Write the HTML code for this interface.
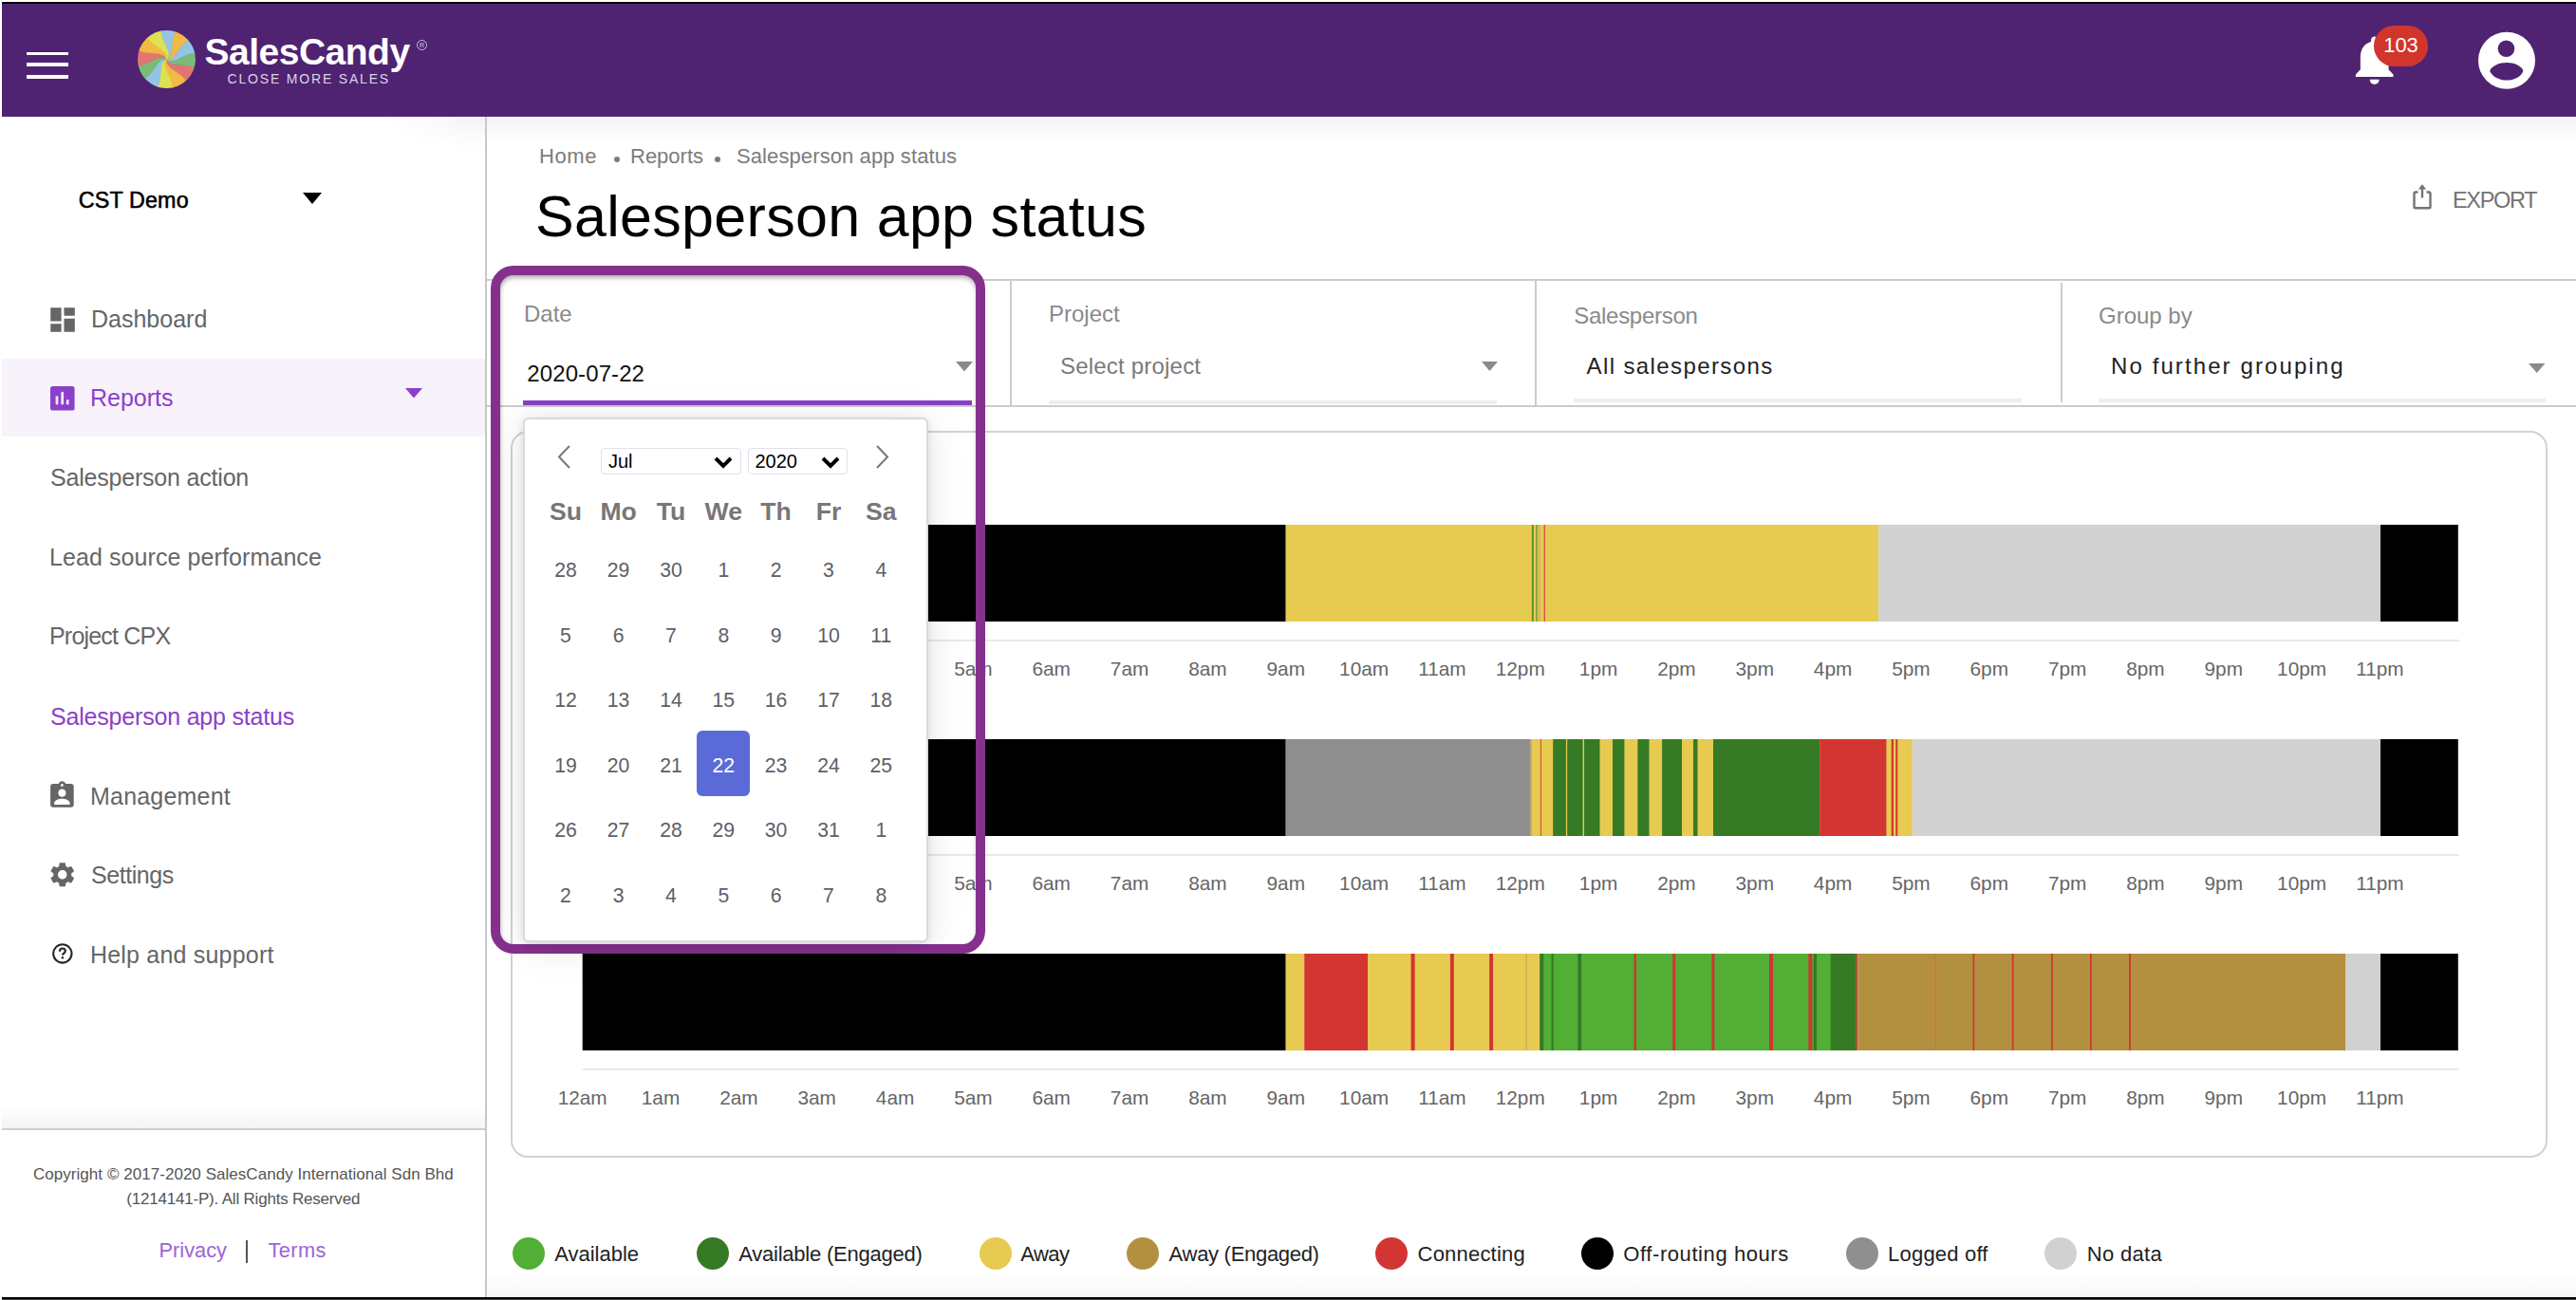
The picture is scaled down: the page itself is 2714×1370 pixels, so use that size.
<!DOCTYPE html>
<html><head><meta charset="utf-8"><title>Salesperson app status</title>
<style>
html,body{margin:0;padding:0;background:#fff;}
body{width:2714px;height:1370px;position:relative;overflow:hidden;font-family:"Liberation Sans", sans-serif;}
.t{position:absolute;white-space:pre;font-family:"Liberation Sans", sans-serif;}
.r{position:absolute;}
</style></head><body>
<div class="r" style="left:2px;top:2px;width:2712px;height:2px;background:#000;"></div>
<div class="r" style="left:2px;top:4px;width:2712px;height:119px;background:#4f2372;"></div>
<div class="r" style="left:27.7px;top:55px;width:44.6px;height:2.6px;background:#fff;"></div>
<div class="r" style="left:27.7px;top:66px;width:44.6px;height:4px;background:#fff;"></div>
<div class="r" style="left:27.7px;top:78.8px;width:44.6px;height:4px;background:#fff;"></div>
<svg class="r" style="left:145px;top:32.3px;" width="61" height="61" viewBox="0 0 61 61"><defs><clipPath id="cc"><circle cx="30.5" cy="30.5" r="30.5"/></clipPath></defs><g clip-path="url(#cc)"><path d="M30.50,30.50 C37.92,22.82 23.40,11.99 24.39,-0.94 L32.73,-1.45 L40.93,0.22 C33.60,10.92 40.76,27.56 30.50,30.50 Z" fill="#94c4e4" stroke="#94c4e4" stroke-width="0.7"/><path d="M30.50,30.50 C40.76,27.56 33.60,10.92 40.93,0.22 L48.41,3.95 L54.67,9.49 C42.98,15.09 40.86,33.08 30.50,30.50 Z" fill="#f2b944" stroke="#f2b944" stroke-width="0.7"/><path d="M30.50,30.50 C40.86,33.08 42.98,15.09 54.67,9.49 L59.28,16.46 L61.94,24.39 C49.01,23.40 38.18,37.92 30.50,30.50 Z" fill="#94c4e4" stroke="#94c4e4" stroke-width="0.7"/><path d="M30.50,30.50 C38.18,37.92 49.01,23.40 61.94,24.39 L62.45,32.73 L60.78,40.93 C50.08,33.60 33.44,40.76 30.50,30.50 Z" fill="#7bbb77" stroke="#7bbb77" stroke-width="0.7"/><path d="M30.50,30.50 C33.44,40.76 50.08,33.60 60.78,40.93 L57.05,48.41 L51.51,54.67 C45.91,42.98 27.92,40.86 30.50,30.50 Z" fill="#e37570" stroke="#e37570" stroke-width="0.7"/><path d="M30.50,30.50 C27.92,40.86 45.91,42.98 51.51,54.67 L44.54,59.28 L36.61,61.94 C37.60,49.01 23.08,38.18 30.50,30.50 Z" fill="#f2b944" stroke="#f2b944" stroke-width="0.7"/><path d="M30.50,30.50 C23.08,38.18 37.60,49.01 36.61,61.94 L28.27,62.45 L20.07,60.78 C27.40,50.08 20.24,33.44 30.50,30.50 Z" fill="#dde152" stroke="#dde152" stroke-width="0.7"/><path d="M30.50,30.50 C20.24,33.44 27.40,50.08 20.07,60.78 L12.59,57.05 L6.33,51.51 C18.02,45.91 20.14,27.92 30.50,30.50 Z" fill="#94c4e4" stroke="#94c4e4" stroke-width="0.7"/><path d="M30.50,30.50 C20.14,27.92 18.02,45.91 6.33,51.51 L1.72,44.54 L-0.94,36.61 C11.99,37.60 22.82,23.08 30.50,30.50 Z" fill="#7bbb77" stroke="#7bbb77" stroke-width="0.7"/><path d="M30.50,30.50 C22.82,23.08 11.99,37.60 -0.94,36.61 L-1.45,28.27 L0.22,20.07 C10.92,27.40 27.56,20.24 30.50,30.50 Z" fill="#e37570" stroke="#e37570" stroke-width="0.7"/><path d="M30.50,30.50 C27.56,20.24 10.92,27.40 0.22,20.07 L3.95,12.59 L9.49,6.33 C15.09,18.02 33.08,20.14 30.50,30.50 Z" fill="#f2b944" stroke="#f2b944" stroke-width="0.7"/><path d="M30.50,30.50 C33.08,20.14 15.09,18.02 9.49,6.33 L16.46,1.72 L24.39,-0.94 C23.40,11.99 37.92,22.82 30.50,30.50 Z" fill="#dde152" stroke="#dde152" stroke-width="0.7"/></g></svg>
<div class="t" style="left:215.50px;top:35.18px;font-size:39px;line-height:39px;color:#fff;font-weight:700;letter-spacing:-0.5px;">SalesCandy</div>
<div class="r" style="left:439.1px;top:41.9px;width:11px;height:11px;border:1.5px solid rgba(255,255,255,0.68);border-radius:50%;box-sizing:border-box;"></div>
<div class="t" style="left:439.1px;top:42.2px;width:11px;height:11px;font-size:7px;line-height:11px;text-align:center;color:rgba(255,255,255,0.55);font-weight:700;">R</div>
<div class="t" style="left:239.50px;top:76.35px;font-size:14px;line-height:14px;color:#ddd3e8;font-weight:400;letter-spacing:1.82px;">CLOSE MORE SALES</div>
<svg class="r" style="left:2471.6px;top:32.2px;" width="59.4" height="62" viewBox="0 0 24 24" preserveAspectRatio="none"><path fill="#fff" d="M12 22c1.1 0 2-.9 2-2h-4c0 1.1.89 2 2 2zm6-6v-5c0-3.07-1.64-5.64-4.5-6.32V4c0-.83-.67-1.5-1.5-1.5s-1.5.67-1.5 1.5v.68C7.63 5.36 6 7.92 6 11v5l-2 2v1h16v-1l-2-2z"/></svg>
<div class="r" style="left:2501px;top:27.4px;width:57px;height:42.6px;border-radius:21.3px;background:#d1352b;"></div>
<div class="t" style="left:2029.50px;width:1000px;text-align:center;top:36.87px;font-size:22px;line-height:22px;color:#fff;font-weight:400;">103</div>
<svg class="r" style="left:2606px;top:30px;" width="70" height="70" viewBox="2606 30 70 70"><circle cx="2641" cy="63.8" r="30" fill="#fff"/><circle cx="2640.5" cy="51.3" r="8.8" fill="#4f2372"/><path fill="#4f2372" d="M2623.2 74.9 C2625 69.5, 2633 66.1, 2641 66.1 C2649 66.1, 2657 69.5, 2658.4 74.9 C2656 80.8, 2649 84.5, 2641 84.5 C2633 84.5, 2626 80.8, 2623.2 74.9 Z"/></svg>
<div class="r" style="left:511px;top:123px;width:2px;height:1244px;background:#c8c8c8;"></div>
<div class="r" style="left:513px;top:123px;width:2201px;height:32px;background:linear-gradient(rgba(0,0,0,0.055),rgba(0,0,0,0.02) 45%,rgba(0,0,0,0));"></div>
<div class="r" style="left:400px;top:123px;width:111px;height:36px;background:radial-gradient(ellipse 100% 100% at 100% 0%, rgba(0,0,0,0.055), rgba(0,0,0,0.02) 50%, rgba(0,0,0,0) 100%);"></div>
<div class="t" style="left:82.80px;top:200.27px;font-size:23.3px;line-height:23.3px;color:#000;font-weight:400;letter-spacing:0.15px;-webkit-text-stroke:0.55px #000;">CST Demo</div>
<svg class="r" style="left:319px;top:202.5px;" width="20" height="12" viewBox="0 0 20 12"><path d="M0 0H20L10 12Z" fill="#000"/></svg>
<svg class="r" style="left:48.9px;top:319.8px;" width="34.1" height="34.1" viewBox="0 0 24 24"><path fill="#666" d="M3 13h8V3H3v10zm0 8h8v-6H3v6zm10 0h8V11h-8v10zm0-18v6h8V3h-8z"/></svg>
<div class="t" style="left:96.00px;top:324.43px;font-size:25px;line-height:25px;color:#666666;font-weight:400;">Dashboard</div>
<div class="r" style="left:2px;top:378px;width:509px;height:82px;background:#f8f2fb;"></div>
<svg class="r" style="left:53.2px;top:407.2px;" width="25.6" height="25.6" viewBox="0 0 25.6 25.6"><rect x="0" y="0" width="25.6" height="25.6" rx="2.6" fill="#8b40c9"/><rect x="5.6" y="10.2" width="2.8" height="9.4" rx="1.4" fill="#f3e6f8"/><rect x="11.3" y="5.8" width="2.8" height="13.8" rx="1.4" fill="#f3e6f8"/><rect x="16.8" y="14" width="2.8" height="5.6" rx="1.4" fill="#f3e6f8"/></svg>
<div class="t" style="left:95.00px;top:406.53px;font-size:25px;line-height:25px;color:#8b40c9;font-weight:400;">Reports</div>
<svg class="r" style="left:427px;top:408.6px;" width="18" height="10.5" viewBox="0 0 18 10.5"><path d="M0 0H18L9 10.5Z" fill="#8b40c9"/></svg>
<div class="t" style="left:53.00px;top:491.43px;font-size:25px;line-height:25px;color:#666666;font-weight:400;letter-spacing:-0.2px;">Salesperson action</div>
<div class="t" style="left:52.00px;top:574.83px;font-size:25px;line-height:25px;color:#666666;font-weight:400;letter-spacing:0.09px;">Lead source performance</div>
<div class="t" style="left:52.00px;top:658.43px;font-size:25px;line-height:25px;color:#666666;font-weight:400;letter-spacing:-0.8px;">Project CPX</div>
<div class="t" style="left:53.00px;top:743.43px;font-size:25px;line-height:25px;color:#8b40c9;font-weight:400;letter-spacing:-0.19px;">Salesperson app status</div>
<svg class="r" style="left:49.1px;top:822.3px;" width="32.8" height="32.8" viewBox="0 0 24 24"><path fill="#666" d="M19 3h-4.18C14.4 1.84 13.3 1 12 1c-1.3 0-2.4.84-2.82 2H5c-1.1 0-2 .9-2 2v14c0 1.1.9 2 2 2h14c1.1 0 2-.9 2-2V5c0-1.1-.9-2-2-2zm-7 0c.55 0 1 .45 1 1s-.45 1-1 1-1-.45-1-1 .45-1 1-1zm0 4c1.66 0 3 1.34 3 3s-1.34 3-3 3-3-1.34-3-3 1.34-3 3-3zm6 12H6v-1.4c0-2 4-3.1 6-3.1s6 1.1 6 3.1V19z"/></svg>
<div class="t" style="left:95.00px;top:827.23px;font-size:25px;line-height:25px;color:#666666;font-weight:400;letter-spacing:0.2px;">Management</div>
<svg class="r" style="left:49.6px;top:906.3px;" width="31.5" height="31.5" viewBox="0 0 24 24"><path fill="#666" d="M19.14 12.94c.04-.3.06-.61.06-.94 0-.32-.02-.64-.07-.94l2.03-1.58c.18-.14.23-.41.12-.61l-1.92-3.32c-.12-.22-.37-.29-.59-.22l-2.39.96c-.5-.38-1.03-.7-1.62-.94l-.36-2.54c-.04-.24-.24-.41-.48-.41h-3.84c-.24 0-.43.17-.47.41l-.36 2.54c-.59.24-1.13.57-1.62.94l-2.39-.96c-.22-.08-.47 0-.59.22L2.74 8.87c-.12.21-.08.47.12.61l2.03 1.58c-.05.3-.09.63-.09.94s.02.64.07.94l-2.03 1.58c-.18.14-.23.41-.12.61l1.92 3.32c.12.22.37.29.59.22l2.39-.96c.5.38 1.03.7 1.62.94l.36 2.54c.05.24.24.41.48.41h3.84c.24 0 .44-.17.47-.41l.36-2.54c.59-.24 1.13-.56 1.62-.94l2.39.96c.22.08.47 0 .59-.22l1.92-3.32c.12-.22.07-.47-.12-.61l-2.01-1.58zM12 15.6c-1.98 0-3.6-1.62-3.6-3.6s1.62-3.6 3.6-3.6 3.6 1.62 3.6 3.6-1.62 3.6-3.6 3.6z"/></svg>
<div class="t" style="left:96.00px;top:910.43px;font-size:25px;line-height:25px;color:#666666;font-weight:400;letter-spacing:-0.43px;">Settings</div>
<svg class="r" style="left:45px;top:985px;" width="40" height="40" viewBox="45 985 40 40"><circle cx="65.85" cy="1004.95" r="9.65" fill="none" stroke="#262626" stroke-width="2.1"/><path d="M62.9 1002.7C62.9 1000.7 64.2 999.5 65.9 999.5C67.6 999.5 68.8 1000.6 68.8 1002.2C68.8 1004.3 66 1004.8 65.9 1006.6" fill="none" stroke="#262626" stroke-width="2.2"/><circle cx="65.9" cy="1009.2" r="1.25" fill="#262626"/></svg>
<div class="t" style="left:95.00px;top:994.43px;font-size:25px;line-height:25px;color:#666666;font-weight:400;letter-spacing:0.2px;">Help and support</div>
<div class="r" style="left:2px;top:1165px;width:509px;height:24px;background:linear-gradient(rgba(0,0,0,0),rgba(0,0,0,0.045));"></div>
<div class="r" style="left:2px;top:1188.5px;width:509px;height:2px;background:#cfcfcf;"></div>
<div class="t" style="left:-243.60px;width:1000px;text-align:center;top:1229.41px;font-size:17px;line-height:17px;color:#555;font-weight:400;letter-spacing:0.04px;">Copyright © 2017-2020 SalesCandy International Sdn Bhd</div>
<div class="t" style="left:-243.80px;width:1000px;text-align:center;top:1254.61px;font-size:17px;line-height:17px;color:#555;font-weight:400;letter-spacing:-0.2px;">(1214141-P). All Rights Reserved</div>
<div class="t" style="left:167.50px;top:1307.34px;font-size:21.8px;line-height:21.8px;color:#9e63d6;font-weight:400;">Privacy</div>
<div class="r" style="left:259.2px;top:1306.8px;width:1.7px;height:24px;background:#555;"></div>
<div class="t" style="left:282.50px;top:1307.34px;font-size:21.8px;line-height:21.8px;color:#9e63d6;font-weight:400;letter-spacing:0.4px;">Terms</div>
<div class="r" style="left:2px;top:1367px;width:2712px;height:2px;background:#000;"></div>
<div class="r" style="left:2px;top:1369px;width:2712px;height:1px;background:#444;"></div>
<div class="t" style="left:568.00px;top:154.37px;font-size:22px;line-height:22px;color:#7c7c7c;font-weight:400;letter-spacing:0.6px;">Home</div>
<div class="r" style="left:647px;top:164.5px;width:6px;height:6px;border-radius:50%;background:#7c7c7c;"></div>
<div class="t" style="left:664.00px;top:154.37px;font-size:22px;line-height:22px;color:#7c7c7c;font-weight:400;">Reports</div>
<div class="r" style="left:753px;top:164.5px;width:6px;height:6px;border-radius:50%;background:#7c7c7c;"></div>
<div class="t" style="left:776.00px;top:154.37px;font-size:22px;line-height:22px;color:#7c7c7c;font-weight:400;letter-spacing:0.1px;">Salesperson app status</div>
<div class="t" style="left:564.00px;top:197.75px;font-size:61px;line-height:61px;color:#000;font-weight:400;letter-spacing:0.3px;">Salesperson app status</div>
<svg class="r" style="left:2540px;top:190px;" width="24" height="32" viewBox="0 0 24 32"><path d="M7.5 12.5H4.8a1.3 1.3 0 0 0-1.3 1.3V28a1.3 1.3 0 0 0 1.3 1.3h14.4a1.3 1.3 0 0 0 1.3-1.3V13.8a1.3 1.3 0 0 0-1.3-1.3H16.5" fill="none" stroke="#737373" stroke-width="2.4"/><path d="M12 18.5V5.5" stroke="#737373" stroke-width="2.4"/><path d="M7.8 9.5L12 4.3L16.2 9.5Z" fill="#737373"/></svg>
<div class="t" style="left:2584.00px;top:199.80px;font-size:23.5px;line-height:23.5px;color:#737373;font-weight:400;letter-spacing:-1.3px;">EXPORT</div>
<div class="r" style="left:513px;top:294px;width:2201px;height:2px;background:#cccccc;"></div>
<div class="r" style="left:513px;top:427px;width:2201px;height:2px;background:#cccccc;"></div>
<div class="r" style="left:1064px;top:296px;width:2px;height:131px;background:#cccccc;"></div>
<div class="r" style="left:1617px;top:296px;width:2px;height:131px;background:#cccccc;"></div>
<div class="r" style="left:2171px;top:298px;width:2px;height:126px;background:#cccccc;"></div>
<div class="t" style="left:1105.00px;top:319.08px;font-size:24px;line-height:24px;color:#8a8a8a;font-weight:400;">Project</div>
<div class="t" style="left:1117.00px;top:374.28px;font-size:24px;line-height:24px;color:#7a7a7a;font-weight:400;letter-spacing:0.2px;">Select project</div>
<svg class="r" style="left:1560.5px;top:381.3px;" width="17" height="10" viewBox="0 0 17 10"><path d="M0 0H17L8.5 10Z" fill="#8a8a8a"/></svg>
<div class="r" style="left:1104.5px;top:422px;width:472.5px;height:4.3px;background:#eeeeee;"></div>
<div class="t" style="left:1658.20px;top:321.38px;font-size:24px;line-height:24px;color:#8a8a8a;font-weight:400;letter-spacing:-0.27px;">Salesperson</div>
<div class="t" style="left:1671.50px;top:374.28px;font-size:24px;line-height:24px;color:#222;font-weight:400;letter-spacing:1.4px;">All salespersons</div>
<div class="r" style="left:1657.8px;top:420.2px;width:472.6px;height:4.2px;background:#eeeeee;"></div>
<div class="t" style="left:2211.00px;top:320.98px;font-size:24px;line-height:24px;color:#8a8a8a;font-weight:400;">Group by</div>
<div class="t" style="left:2224.00px;top:373.98px;font-size:24px;line-height:24px;color:#222;font-weight:400;letter-spacing:2.1px;">No further grouping</div>
<svg class="r" style="left:2663.5px;top:383.4px;" width="17.5" height="10" viewBox="0 0 17.5 10"><path d="M0 0H17.5L8.75 10Z" fill="#8a8a8a"/></svg>
<div class="r" style="left:2211.3px;top:420.1px;width:470.3px;height:3.9px;background:#eeeeee;"></div>
<div class="r" style="left:538px;top:454px;width:2146px;height:766px;border:2px solid #d2d2d2;border-radius:18px;box-sizing:border-box;"></div>
<svg class="r" style="left:0;top:553.3px;" width="2714" height="102" viewBox="0 0 2714 102"><rect x="613.70" y="0" width="741.00" height="102" fill="#000"/><rect x="1354.70" y="0" width="624.50" height="102" fill="#e7ca50"/><rect x="1613.90" y="0" width="1.90" height="102" fill="#5a8f2e"/><rect x="1618.10" y="0" width="1.80" height="102" fill="#7ea33a"/><rect x="1620.90" y="0" width="2.00" height="102" fill="#d2b565"/><rect x="1626.60" y="0" width="1.40" height="102" fill="#d9534a"/><rect x="1979.20" y="0" width="528.80" height="102" fill="#d1d1d1"/><rect x="2508.00" y="0" width="81.80" height="102" fill="#000"/></svg>
<div class="r" style="left:614px;top:674px;width:1977px;height:2px;background:#e9e9e9;"></div>
<div class="t" style="left:113.70px;width:1000px;text-align:center;top:694.99px;font-size:20.8px;line-height:20.8px;color:#666;font-weight:400;">12am</div>
<div class="t" style="left:196.04px;width:1000px;text-align:center;top:694.99px;font-size:20.8px;line-height:20.8px;color:#666;font-weight:400;">1am</div>
<div class="t" style="left:278.38px;width:1000px;text-align:center;top:694.99px;font-size:20.8px;line-height:20.8px;color:#666;font-weight:400;">2am</div>
<div class="t" style="left:360.71px;width:1000px;text-align:center;top:694.99px;font-size:20.8px;line-height:20.8px;color:#666;font-weight:400;">3am</div>
<div class="t" style="left:443.05px;width:1000px;text-align:center;top:694.99px;font-size:20.8px;line-height:20.8px;color:#666;font-weight:400;">4am</div>
<div class="t" style="left:525.39px;width:1000px;text-align:center;top:694.99px;font-size:20.8px;line-height:20.8px;color:#666;font-weight:400;">5am</div>
<div class="t" style="left:607.73px;width:1000px;text-align:center;top:694.99px;font-size:20.8px;line-height:20.8px;color:#666;font-weight:400;">6am</div>
<div class="t" style="left:690.06px;width:1000px;text-align:center;top:694.99px;font-size:20.8px;line-height:20.8px;color:#666;font-weight:400;">7am</div>
<div class="t" style="left:772.40px;width:1000px;text-align:center;top:694.99px;font-size:20.8px;line-height:20.8px;color:#666;font-weight:400;">8am</div>
<div class="t" style="left:854.74px;width:1000px;text-align:center;top:694.99px;font-size:20.8px;line-height:20.8px;color:#666;font-weight:400;">9am</div>
<div class="t" style="left:937.08px;width:1000px;text-align:center;top:694.99px;font-size:20.8px;line-height:20.8px;color:#666;font-weight:400;">10am</div>
<div class="t" style="left:1019.41px;width:1000px;text-align:center;top:694.99px;font-size:20.8px;line-height:20.8px;color:#666;font-weight:400;">11am</div>
<div class="t" style="left:1101.75px;width:1000px;text-align:center;top:694.99px;font-size:20.8px;line-height:20.8px;color:#666;font-weight:400;">12pm</div>
<div class="t" style="left:1184.09px;width:1000px;text-align:center;top:694.99px;font-size:20.8px;line-height:20.8px;color:#666;font-weight:400;">1pm</div>
<div class="t" style="left:1266.43px;width:1000px;text-align:center;top:694.99px;font-size:20.8px;line-height:20.8px;color:#666;font-weight:400;">2pm</div>
<div class="t" style="left:1348.76px;width:1000px;text-align:center;top:694.99px;font-size:20.8px;line-height:20.8px;color:#666;font-weight:400;">3pm</div>
<div class="t" style="left:1431.10px;width:1000px;text-align:center;top:694.99px;font-size:20.8px;line-height:20.8px;color:#666;font-weight:400;">4pm</div>
<div class="t" style="left:1513.44px;width:1000px;text-align:center;top:694.99px;font-size:20.8px;line-height:20.8px;color:#666;font-weight:400;">5pm</div>
<div class="t" style="left:1595.78px;width:1000px;text-align:center;top:694.99px;font-size:20.8px;line-height:20.8px;color:#666;font-weight:400;">6pm</div>
<div class="t" style="left:1678.11px;width:1000px;text-align:center;top:694.99px;font-size:20.8px;line-height:20.8px;color:#666;font-weight:400;">7pm</div>
<div class="t" style="left:1760.45px;width:1000px;text-align:center;top:694.99px;font-size:20.8px;line-height:20.8px;color:#666;font-weight:400;">8pm</div>
<div class="t" style="left:1842.79px;width:1000px;text-align:center;top:694.99px;font-size:20.8px;line-height:20.8px;color:#666;font-weight:400;">9pm</div>
<div class="t" style="left:1925.12px;width:1000px;text-align:center;top:694.99px;font-size:20.8px;line-height:20.8px;color:#666;font-weight:400;">10pm</div>
<div class="t" style="left:2007.46px;width:1000px;text-align:center;top:694.99px;font-size:20.8px;line-height:20.8px;color:#666;font-weight:400;">11pm</div>
<svg class="r" style="left:0;top:779.3px;" width="2714" height="102" viewBox="0 0 2714 102"><rect x="613.70" y="0" width="741.00" height="102" fill="#000"/><rect x="1354.70" y="0" width="258.10" height="102" fill="#8f8f8f"/><rect x="1612.80" y="0" width="402.00" height="102" fill="#e7ca50"/><rect x="1612.80" y="0" width="0.80" height="102" fill="#c8a040"/><rect x="1622.90" y="0" width="0.90" height="102" fill="#d33532"/><rect x="1636.20" y="0" width="13.70" height="102" fill="#367a25"/><rect x="1651.20" y="0" width="16.40" height="102" fill="#367a25"/><rect x="1669.00" y="0" width="16.50" height="102" fill="#367a25"/><rect x="1699.00" y="0" width="12.40" height="102" fill="#367a25"/><rect x="1725.40" y="0" width="12.10" height="102" fill="#367a25"/><rect x="1751.10" y="0" width="20.90" height="102" fill="#367a25"/><rect x="1784.00" y="0" width="4.50" height="102" fill="#367a25"/><rect x="1805.00" y="0" width="112.20" height="102" fill="#367a25"/><rect x="1917.20" y="0" width="70.20" height="102" fill="#d33532"/><rect x="1992.70" y="0" width="2.30" height="102" fill="#d33532"/><rect x="1997.30" y="0" width="2.00" height="102" fill="#d33532"/><rect x="2014.80" y="0" width="493.20" height="102" fill="#d1d1d1"/><rect x="2508.00" y="0" width="81.80" height="102" fill="#000"/></svg>
<div class="r" style="left:614px;top:900px;width:1977px;height:2px;background:#e9e9e9;"></div>
<div class="t" style="left:113.70px;width:1000px;text-align:center;top:920.99px;font-size:20.8px;line-height:20.8px;color:#666;font-weight:400;">12am</div>
<div class="t" style="left:196.04px;width:1000px;text-align:center;top:920.99px;font-size:20.8px;line-height:20.8px;color:#666;font-weight:400;">1am</div>
<div class="t" style="left:278.38px;width:1000px;text-align:center;top:920.99px;font-size:20.8px;line-height:20.8px;color:#666;font-weight:400;">2am</div>
<div class="t" style="left:360.71px;width:1000px;text-align:center;top:920.99px;font-size:20.8px;line-height:20.8px;color:#666;font-weight:400;">3am</div>
<div class="t" style="left:443.05px;width:1000px;text-align:center;top:920.99px;font-size:20.8px;line-height:20.8px;color:#666;font-weight:400;">4am</div>
<div class="t" style="left:525.39px;width:1000px;text-align:center;top:920.99px;font-size:20.8px;line-height:20.8px;color:#666;font-weight:400;">5am</div>
<div class="t" style="left:607.73px;width:1000px;text-align:center;top:920.99px;font-size:20.8px;line-height:20.8px;color:#666;font-weight:400;">6am</div>
<div class="t" style="left:690.06px;width:1000px;text-align:center;top:920.99px;font-size:20.8px;line-height:20.8px;color:#666;font-weight:400;">7am</div>
<div class="t" style="left:772.40px;width:1000px;text-align:center;top:920.99px;font-size:20.8px;line-height:20.8px;color:#666;font-weight:400;">8am</div>
<div class="t" style="left:854.74px;width:1000px;text-align:center;top:920.99px;font-size:20.8px;line-height:20.8px;color:#666;font-weight:400;">9am</div>
<div class="t" style="left:937.08px;width:1000px;text-align:center;top:920.99px;font-size:20.8px;line-height:20.8px;color:#666;font-weight:400;">10am</div>
<div class="t" style="left:1019.41px;width:1000px;text-align:center;top:920.99px;font-size:20.8px;line-height:20.8px;color:#666;font-weight:400;">11am</div>
<div class="t" style="left:1101.75px;width:1000px;text-align:center;top:920.99px;font-size:20.8px;line-height:20.8px;color:#666;font-weight:400;">12pm</div>
<div class="t" style="left:1184.09px;width:1000px;text-align:center;top:920.99px;font-size:20.8px;line-height:20.8px;color:#666;font-weight:400;">1pm</div>
<div class="t" style="left:1266.43px;width:1000px;text-align:center;top:920.99px;font-size:20.8px;line-height:20.8px;color:#666;font-weight:400;">2pm</div>
<div class="t" style="left:1348.76px;width:1000px;text-align:center;top:920.99px;font-size:20.8px;line-height:20.8px;color:#666;font-weight:400;">3pm</div>
<div class="t" style="left:1431.10px;width:1000px;text-align:center;top:920.99px;font-size:20.8px;line-height:20.8px;color:#666;font-weight:400;">4pm</div>
<div class="t" style="left:1513.44px;width:1000px;text-align:center;top:920.99px;font-size:20.8px;line-height:20.8px;color:#666;font-weight:400;">5pm</div>
<div class="t" style="left:1595.78px;width:1000px;text-align:center;top:920.99px;font-size:20.8px;line-height:20.8px;color:#666;font-weight:400;">6pm</div>
<div class="t" style="left:1678.11px;width:1000px;text-align:center;top:920.99px;font-size:20.8px;line-height:20.8px;color:#666;font-weight:400;">7pm</div>
<div class="t" style="left:1760.45px;width:1000px;text-align:center;top:920.99px;font-size:20.8px;line-height:20.8px;color:#666;font-weight:400;">8pm</div>
<div class="t" style="left:1842.79px;width:1000px;text-align:center;top:920.99px;font-size:20.8px;line-height:20.8px;color:#666;font-weight:400;">9pm</div>
<div class="t" style="left:1925.12px;width:1000px;text-align:center;top:920.99px;font-size:20.8px;line-height:20.8px;color:#666;font-weight:400;">10pm</div>
<div class="t" style="left:2007.46px;width:1000px;text-align:center;top:920.99px;font-size:20.8px;line-height:20.8px;color:#666;font-weight:400;">11pm</div>
<svg class="r" style="left:0;top:1005.3px;" width="2714" height="102" viewBox="0 0 2714 102"><rect x="613.70" y="0" width="741.00" height="102" fill="#000"/><rect x="1354.70" y="0" width="19.50" height="102" fill="#e7ca50"/><rect x="1374.20" y="0" width="66.80" height="102" fill="#d33532"/><rect x="1441.00" y="0" width="181.30" height="102" fill="#e7ca50"/><rect x="1486.60" y="0" width="4.00" height="102" fill="#d33532"/><rect x="1527.90" y="0" width="3.90" height="102" fill="#d33532"/><rect x="1569.20" y="0" width="3.80" height="102" fill="#d33532"/><rect x="1607.50" y="0" width="1.20" height="102" fill="#c9a75a"/><rect x="1622.30" y="0" width="333.40" height="102" fill="#52ae35"/><rect x="1622.30" y="0" width="3.90" height="102" fill="#367a25"/><rect x="1634.50" y="0" width="2.20" height="102" fill="#367a25"/><rect x="1662.30" y="0" width="3.80" height="102" fill="#367a25"/><rect x="1721.50" y="0" width="2.50" height="102" fill="#d33532"/><rect x="1762.30" y="0" width="2.90" height="102" fill="#d33532"/><rect x="1803.40" y="0" width="2.90" height="102" fill="#d33532"/><rect x="1864.00" y="0" width="4.00" height="102" fill="#d33532"/><rect x="1905.40" y="0" width="3.90" height="102" fill="#d33532"/><rect x="1910.70" y="0" width="3.30" height="102" fill="#367a25"/><rect x="1928.70" y="0" width="27.00" height="102" fill="#367a25"/><rect x="1955.70" y="0" width="1.70" height="102" fill="#d33532"/><rect x="1957.40" y="0" width="514.10" height="102" fill="#b39040"/><rect x="2038.60" y="0" width="1.20" height="102" fill="#d86a50"/><rect x="2078.50" y="0" width="1.70" height="102" fill="#d33532"/><rect x="2119.80" y="0" width="1.70" height="102" fill="#d33532"/><rect x="2161.00" y="0" width="1.70" height="102" fill="#d33532"/><rect x="2202.00" y="0" width="1.70" height="102" fill="#d33532"/><rect x="2243.00" y="0" width="1.80" height="102" fill="#d33532"/><rect x="2471.50" y="0" width="36.50" height="102" fill="#d1d1d1"/><rect x="2508.00" y="0" width="81.80" height="102" fill="#000"/></svg>
<div class="r" style="left:614px;top:1126px;width:1977px;height:2px;background:#e9e9e9;"></div>
<div class="t" style="left:113.70px;width:1000px;text-align:center;top:1146.99px;font-size:20.8px;line-height:20.8px;color:#666;font-weight:400;">12am</div>
<div class="t" style="left:196.04px;width:1000px;text-align:center;top:1146.99px;font-size:20.8px;line-height:20.8px;color:#666;font-weight:400;">1am</div>
<div class="t" style="left:278.38px;width:1000px;text-align:center;top:1146.99px;font-size:20.8px;line-height:20.8px;color:#666;font-weight:400;">2am</div>
<div class="t" style="left:360.71px;width:1000px;text-align:center;top:1146.99px;font-size:20.8px;line-height:20.8px;color:#666;font-weight:400;">3am</div>
<div class="t" style="left:443.05px;width:1000px;text-align:center;top:1146.99px;font-size:20.8px;line-height:20.8px;color:#666;font-weight:400;">4am</div>
<div class="t" style="left:525.39px;width:1000px;text-align:center;top:1146.99px;font-size:20.8px;line-height:20.8px;color:#666;font-weight:400;">5am</div>
<div class="t" style="left:607.73px;width:1000px;text-align:center;top:1146.99px;font-size:20.8px;line-height:20.8px;color:#666;font-weight:400;">6am</div>
<div class="t" style="left:690.06px;width:1000px;text-align:center;top:1146.99px;font-size:20.8px;line-height:20.8px;color:#666;font-weight:400;">7am</div>
<div class="t" style="left:772.40px;width:1000px;text-align:center;top:1146.99px;font-size:20.8px;line-height:20.8px;color:#666;font-weight:400;">8am</div>
<div class="t" style="left:854.74px;width:1000px;text-align:center;top:1146.99px;font-size:20.8px;line-height:20.8px;color:#666;font-weight:400;">9am</div>
<div class="t" style="left:937.08px;width:1000px;text-align:center;top:1146.99px;font-size:20.8px;line-height:20.8px;color:#666;font-weight:400;">10am</div>
<div class="t" style="left:1019.41px;width:1000px;text-align:center;top:1146.99px;font-size:20.8px;line-height:20.8px;color:#666;font-weight:400;">11am</div>
<div class="t" style="left:1101.75px;width:1000px;text-align:center;top:1146.99px;font-size:20.8px;line-height:20.8px;color:#666;font-weight:400;">12pm</div>
<div class="t" style="left:1184.09px;width:1000px;text-align:center;top:1146.99px;font-size:20.8px;line-height:20.8px;color:#666;font-weight:400;">1pm</div>
<div class="t" style="left:1266.43px;width:1000px;text-align:center;top:1146.99px;font-size:20.8px;line-height:20.8px;color:#666;font-weight:400;">2pm</div>
<div class="t" style="left:1348.76px;width:1000px;text-align:center;top:1146.99px;font-size:20.8px;line-height:20.8px;color:#666;font-weight:400;">3pm</div>
<div class="t" style="left:1431.10px;width:1000px;text-align:center;top:1146.99px;font-size:20.8px;line-height:20.8px;color:#666;font-weight:400;">4pm</div>
<div class="t" style="left:1513.44px;width:1000px;text-align:center;top:1146.99px;font-size:20.8px;line-height:20.8px;color:#666;font-weight:400;">5pm</div>
<div class="t" style="left:1595.78px;width:1000px;text-align:center;top:1146.99px;font-size:20.8px;line-height:20.8px;color:#666;font-weight:400;">6pm</div>
<div class="t" style="left:1678.11px;width:1000px;text-align:center;top:1146.99px;font-size:20.8px;line-height:20.8px;color:#666;font-weight:400;">7pm</div>
<div class="t" style="left:1760.45px;width:1000px;text-align:center;top:1146.99px;font-size:20.8px;line-height:20.8px;color:#666;font-weight:400;">8pm</div>
<div class="t" style="left:1842.79px;width:1000px;text-align:center;top:1146.99px;font-size:20.8px;line-height:20.8px;color:#666;font-weight:400;">9pm</div>
<div class="t" style="left:1925.12px;width:1000px;text-align:center;top:1146.99px;font-size:20.8px;line-height:20.8px;color:#666;font-weight:400;">10pm</div>
<div class="t" style="left:2007.46px;width:1000px;text-align:center;top:1146.99px;font-size:20.8px;line-height:20.8px;color:#666;font-weight:400;">11pm</div>
<div class="r" style="left:540.3px;top:1303.8px;width:34px;height:34px;border-radius:50%;background:#52ae35;"></div>
<div class="t" style="left:584.20px;top:1311.37px;font-size:22px;line-height:22px;color:#222;font-weight:400;">Available</div>
<div class="r" style="left:733.8px;top:1303.8px;width:34px;height:34px;border-radius:50%;background:#367a25;"></div>
<div class="t" style="left:778.20px;top:1311.37px;font-size:22px;line-height:22px;color:#222;font-weight:400;letter-spacing:-0.23px;">Available (Engaged)</div>
<div class="r" style="left:1031.9px;top:1303.8px;width:34px;height:34px;border-radius:50%;background:#e7ca50;"></div>
<div class="t" style="left:1075.20px;top:1311.37px;font-size:22px;line-height:22px;color:#222;font-weight:400;letter-spacing:-0.5px;">Away</div>
<div class="r" style="left:1187.4px;top:1303.8px;width:34px;height:34px;border-radius:50%;background:#b39040;"></div>
<div class="t" style="left:1231.60px;top:1311.37px;font-size:22px;line-height:22px;color:#222;font-weight:400;letter-spacing:-0.3px;">Away (Engaged)</div>
<div class="r" style="left:1449px;top:1303.8px;width:34px;height:34px;border-radius:50%;background:#d33532;"></div>
<div class="t" style="left:1493.60px;top:1311.37px;font-size:22px;line-height:22px;color:#222;font-weight:400;letter-spacing:0.2px;">Connecting</div>
<div class="r" style="left:1666.3px;top:1303.8px;width:34px;height:34px;border-radius:50%;background:#000;"></div>
<div class="t" style="left:1710.30px;top:1311.37px;font-size:22px;line-height:22px;color:#222;font-weight:400;letter-spacing:0.58px;">Off-routing hours</div>
<div class="r" style="left:1944.8px;top:1303.8px;width:34px;height:34px;border-radius:50%;background:#8f8f8f;"></div>
<div class="t" style="left:1989.10px;top:1311.37px;font-size:22px;line-height:22px;color:#222;font-weight:400;letter-spacing:0.2px;">Logged off</div>
<div class="r" style="left:2153.8px;top:1303.8px;width:34px;height:34px;border-radius:50%;background:#d1d1d1;"></div>
<div class="t" style="left:2198.80px;top:1311.37px;font-size:22px;line-height:22px;color:#222;font-weight:400;letter-spacing:0.3px;">No data</div>
<div class="r" style="left:513px;top:1340px;width:2201px;height:27px;background:linear-gradient(rgba(0,0,0,0),rgba(0,0,0,0.03));"></div>
<div class="r" style="left:517px;top:280px;width:521px;height:725px;border:10px solid #86308e;border-radius:24px;box-sizing:border-box;box-shadow: inset 0 4px 5px -1px rgba(0,0,0,0.30), inset 3px 0 5px -2px rgba(0,0,0,0.10);background:transparent;z-index:5;"></div>
<div class="r" style="left:520px;top:285px;width:515px;height:20px;background:#fff;z-index:4;"></div>
<div class="t" style="left:552.00px;top:318.68px;font-size:24px;line-height:24px;color:#8a8a8a;font-weight:400;z-index:6;">Date</div>
<div class="t" style="left:555.30px;top:382.48px;font-size:24px;line-height:24px;color:#111;font-weight:400;letter-spacing:0.1px;z-index:6;">2020-07-22</div>
<svg class="r" style="left:1007px;top:381px;width:18px;height:10.4px;z-index:6;" viewBox="0 0 18 10.4"><path d="M0 0H18L9 10.4Z" fill="#8a8a8a"/></svg>
<div class="r" style="left:551px;top:422.2px;width:472.7px;height:4.4px;background:#8a3fc3;z-index:6;"></div>
<div class="r" style="left:551px;top:440px;width:427.3px;height:552.5px;background:#fff;border:2px solid #dadada;border-radius:6px;box-sizing:border-box;box-shadow:0 2px 8px rgba(0,0,0,0.10), 0 4px 44px rgba(0,0,0,0.11);z-index:6;"></div>
<svg class="r" style="left:586px;top:468px;width:16px;height:27px;z-index:7;" viewBox="0 0 16 27"><path d="M14 2L3 13.5L14 25" fill="none" stroke="#777" stroke-width="2"/></svg>
<svg class="r" style="left:922px;top:468px;width:16px;height:27px;z-index:7;" viewBox="0 0 16 27"><path d="M2 2L13 13.5L2 25" fill="none" stroke="#777" stroke-width="2"/></svg>
<div class="r" style="left:632.5px;top:471.8px;width:148px;height:28.6px;border:1.5px solid #dfe1ea;border-radius:4px;box-sizing:border-box;background:#fff;z-index:7;"></div>
<div class="r" style="left:787.5px;top:471.8px;width:105.5px;height:28.6px;border:1.5px solid #dfe1ea;border-radius:4px;box-sizing:border-box;background:#fff;z-index:7;"></div>
<div class="t" style="left:641.00px;top:476.17px;font-size:20px;line-height:20px;color:#000;font-weight:400;z-index:7;">Jul</div>
<div class="t" style="left:795.50px;top:476.17px;font-size:20px;line-height:20px;color:#000;font-weight:400;z-index:7;">2020</div>
<svg class="r" style="left:752px;top:480px;width:20px;height:14px;z-index:7;" viewBox="0 0 20 14"><path d="M2 3L10 11L18 3" fill="none" stroke="#000" stroke-width="3.9" stroke-linejoin="miter"/></svg>
<svg class="r" style="left:864.5px;top:480px;width:20px;height:14px;z-index:7;" viewBox="0 0 20 14"><path d="M2 3L10 11L18 3" fill="none" stroke="#000" stroke-width="3.9" stroke-linejoin="miter"/></svg>
<div class="t" style="left:96.00px;width:1000px;text-align:center;top:525.78px;font-size:26.6px;line-height:26.6px;color:#777;font-weight:700;z-index:7;">Su</div>
<div class="t" style="left:151.60px;width:1000px;text-align:center;top:525.78px;font-size:26.6px;line-height:26.6px;color:#777;font-weight:700;z-index:7;">Mo</div>
<div class="t" style="left:207.00px;width:1000px;text-align:center;top:525.78px;font-size:26.6px;line-height:26.6px;color:#777;font-weight:700;z-index:7;">Tu</div>
<div class="t" style="left:262.30px;width:1000px;text-align:center;top:525.78px;font-size:26.6px;line-height:26.6px;color:#777;font-weight:700;z-index:7;">We</div>
<div class="t" style="left:317.60px;width:1000px;text-align:center;top:525.78px;font-size:26.6px;line-height:26.6px;color:#777;font-weight:700;z-index:7;">Th</div>
<div class="t" style="left:373.00px;width:1000px;text-align:center;top:525.78px;font-size:26.6px;line-height:26.6px;color:#777;font-weight:700;z-index:7;">Fr</div>
<div class="t" style="left:428.30px;width:1000px;text-align:center;top:525.78px;font-size:26.6px;line-height:26.6px;color:#777;font-weight:700;z-index:7;">Sa</div>
<div class="r" style="left:734px;top:770px;width:55.5px;height:68.5px;border-radius:6px;background:#5a6bd7;z-index:7;"></div>
<div class="t" style="left:96.00px;width:1000px;text-align:center;top:590.25px;font-size:21.2px;line-height:21.2px;color:#5d6067;font-weight:400;z-index:7;">28</div>
<div class="t" style="left:151.60px;width:1000px;text-align:center;top:590.25px;font-size:21.2px;line-height:21.2px;color:#5d6067;font-weight:400;z-index:7;">29</div>
<div class="t" style="left:207.00px;width:1000px;text-align:center;top:590.25px;font-size:21.2px;line-height:21.2px;color:#5d6067;font-weight:400;z-index:7;">30</div>
<div class="t" style="left:262.30px;width:1000px;text-align:center;top:590.25px;font-size:21.2px;line-height:21.2px;color:#5d6067;font-weight:400;z-index:7;">1</div>
<div class="t" style="left:317.60px;width:1000px;text-align:center;top:590.25px;font-size:21.2px;line-height:21.2px;color:#5d6067;font-weight:400;z-index:7;">2</div>
<div class="t" style="left:373.00px;width:1000px;text-align:center;top:590.25px;font-size:21.2px;line-height:21.2px;color:#5d6067;font-weight:400;z-index:7;">3</div>
<div class="t" style="left:428.30px;width:1000px;text-align:center;top:590.25px;font-size:21.2px;line-height:21.2px;color:#5d6067;font-weight:400;z-index:7;">4</div>
<div class="t" style="left:96.00px;width:1000px;text-align:center;top:658.70px;font-size:21.2px;line-height:21.2px;color:#5d6067;font-weight:400;z-index:7;">5</div>
<div class="t" style="left:151.60px;width:1000px;text-align:center;top:658.70px;font-size:21.2px;line-height:21.2px;color:#5d6067;font-weight:400;z-index:7;">6</div>
<div class="t" style="left:207.00px;width:1000px;text-align:center;top:658.70px;font-size:21.2px;line-height:21.2px;color:#5d6067;font-weight:400;z-index:7;">7</div>
<div class="t" style="left:262.30px;width:1000px;text-align:center;top:658.70px;font-size:21.2px;line-height:21.2px;color:#5d6067;font-weight:400;z-index:7;">8</div>
<div class="t" style="left:317.60px;width:1000px;text-align:center;top:658.70px;font-size:21.2px;line-height:21.2px;color:#5d6067;font-weight:400;z-index:7;">9</div>
<div class="t" style="left:373.00px;width:1000px;text-align:center;top:658.70px;font-size:21.2px;line-height:21.2px;color:#5d6067;font-weight:400;z-index:7;">10</div>
<div class="t" style="left:428.30px;width:1000px;text-align:center;top:658.70px;font-size:21.2px;line-height:21.2px;color:#5d6067;font-weight:400;z-index:7;">11</div>
<div class="t" style="left:96.00px;width:1000px;text-align:center;top:727.15px;font-size:21.2px;line-height:21.2px;color:#5d6067;font-weight:400;z-index:7;">12</div>
<div class="t" style="left:151.60px;width:1000px;text-align:center;top:727.15px;font-size:21.2px;line-height:21.2px;color:#5d6067;font-weight:400;z-index:7;">13</div>
<div class="t" style="left:207.00px;width:1000px;text-align:center;top:727.15px;font-size:21.2px;line-height:21.2px;color:#5d6067;font-weight:400;z-index:7;">14</div>
<div class="t" style="left:262.30px;width:1000px;text-align:center;top:727.15px;font-size:21.2px;line-height:21.2px;color:#5d6067;font-weight:400;z-index:7;">15</div>
<div class="t" style="left:317.60px;width:1000px;text-align:center;top:727.15px;font-size:21.2px;line-height:21.2px;color:#5d6067;font-weight:400;z-index:7;">16</div>
<div class="t" style="left:373.00px;width:1000px;text-align:center;top:727.15px;font-size:21.2px;line-height:21.2px;color:#5d6067;font-weight:400;z-index:7;">17</div>
<div class="t" style="left:428.30px;width:1000px;text-align:center;top:727.15px;font-size:21.2px;line-height:21.2px;color:#5d6067;font-weight:400;z-index:7;">18</div>
<div class="t" style="left:96.00px;width:1000px;text-align:center;top:795.60px;font-size:21.2px;line-height:21.2px;color:#5d6067;font-weight:400;z-index:7;">19</div>
<div class="t" style="left:151.60px;width:1000px;text-align:center;top:795.60px;font-size:21.2px;line-height:21.2px;color:#5d6067;font-weight:400;z-index:7;">20</div>
<div class="t" style="left:207.00px;width:1000px;text-align:center;top:795.60px;font-size:21.2px;line-height:21.2px;color:#5d6067;font-weight:400;z-index:7;">21</div>
<div class="t" style="left:262.30px;width:1000px;text-align:center;top:795.60px;font-size:21.2px;line-height:21.2px;color:#fff;font-weight:400;z-index:7;">22</div>
<div class="t" style="left:317.60px;width:1000px;text-align:center;top:795.60px;font-size:21.2px;line-height:21.2px;color:#5d6067;font-weight:400;z-index:7;">23</div>
<div class="t" style="left:373.00px;width:1000px;text-align:center;top:795.60px;font-size:21.2px;line-height:21.2px;color:#5d6067;font-weight:400;z-index:7;">24</div>
<div class="t" style="left:428.30px;width:1000px;text-align:center;top:795.60px;font-size:21.2px;line-height:21.2px;color:#5d6067;font-weight:400;z-index:7;">25</div>
<div class="t" style="left:96.00px;width:1000px;text-align:center;top:864.05px;font-size:21.2px;line-height:21.2px;color:#5d6067;font-weight:400;z-index:7;">26</div>
<div class="t" style="left:151.60px;width:1000px;text-align:center;top:864.05px;font-size:21.2px;line-height:21.2px;color:#5d6067;font-weight:400;z-index:7;">27</div>
<div class="t" style="left:207.00px;width:1000px;text-align:center;top:864.05px;font-size:21.2px;line-height:21.2px;color:#5d6067;font-weight:400;z-index:7;">28</div>
<div class="t" style="left:262.30px;width:1000px;text-align:center;top:864.05px;font-size:21.2px;line-height:21.2px;color:#5d6067;font-weight:400;z-index:7;">29</div>
<div class="t" style="left:317.60px;width:1000px;text-align:center;top:864.05px;font-size:21.2px;line-height:21.2px;color:#5d6067;font-weight:400;z-index:7;">30</div>
<div class="t" style="left:373.00px;width:1000px;text-align:center;top:864.05px;font-size:21.2px;line-height:21.2px;color:#5d6067;font-weight:400;z-index:7;">31</div>
<div class="t" style="left:428.30px;width:1000px;text-align:center;top:864.05px;font-size:21.2px;line-height:21.2px;color:#5d6067;font-weight:400;z-index:7;">1</div>
<div class="t" style="left:96.00px;width:1000px;text-align:center;top:932.50px;font-size:21.2px;line-height:21.2px;color:#5d6067;font-weight:400;z-index:7;">2</div>
<div class="t" style="left:151.60px;width:1000px;text-align:center;top:932.50px;font-size:21.2px;line-height:21.2px;color:#5d6067;font-weight:400;z-index:7;">3</div>
<div class="t" style="left:207.00px;width:1000px;text-align:center;top:932.50px;font-size:21.2px;line-height:21.2px;color:#5d6067;font-weight:400;z-index:7;">4</div>
<div class="t" style="left:262.30px;width:1000px;text-align:center;top:932.50px;font-size:21.2px;line-height:21.2px;color:#5d6067;font-weight:400;z-index:7;">5</div>
<div class="t" style="left:317.60px;width:1000px;text-align:center;top:932.50px;font-size:21.2px;line-height:21.2px;color:#5d6067;font-weight:400;z-index:7;">6</div>
<div class="t" style="left:373.00px;width:1000px;text-align:center;top:932.50px;font-size:21.2px;line-height:21.2px;color:#5d6067;font-weight:400;z-index:7;">7</div>
<div class="t" style="left:428.30px;width:1000px;text-align:center;top:932.50px;font-size:21.2px;line-height:21.2px;color:#5d6067;font-weight:400;z-index:7;">8</div>
</body></html>
